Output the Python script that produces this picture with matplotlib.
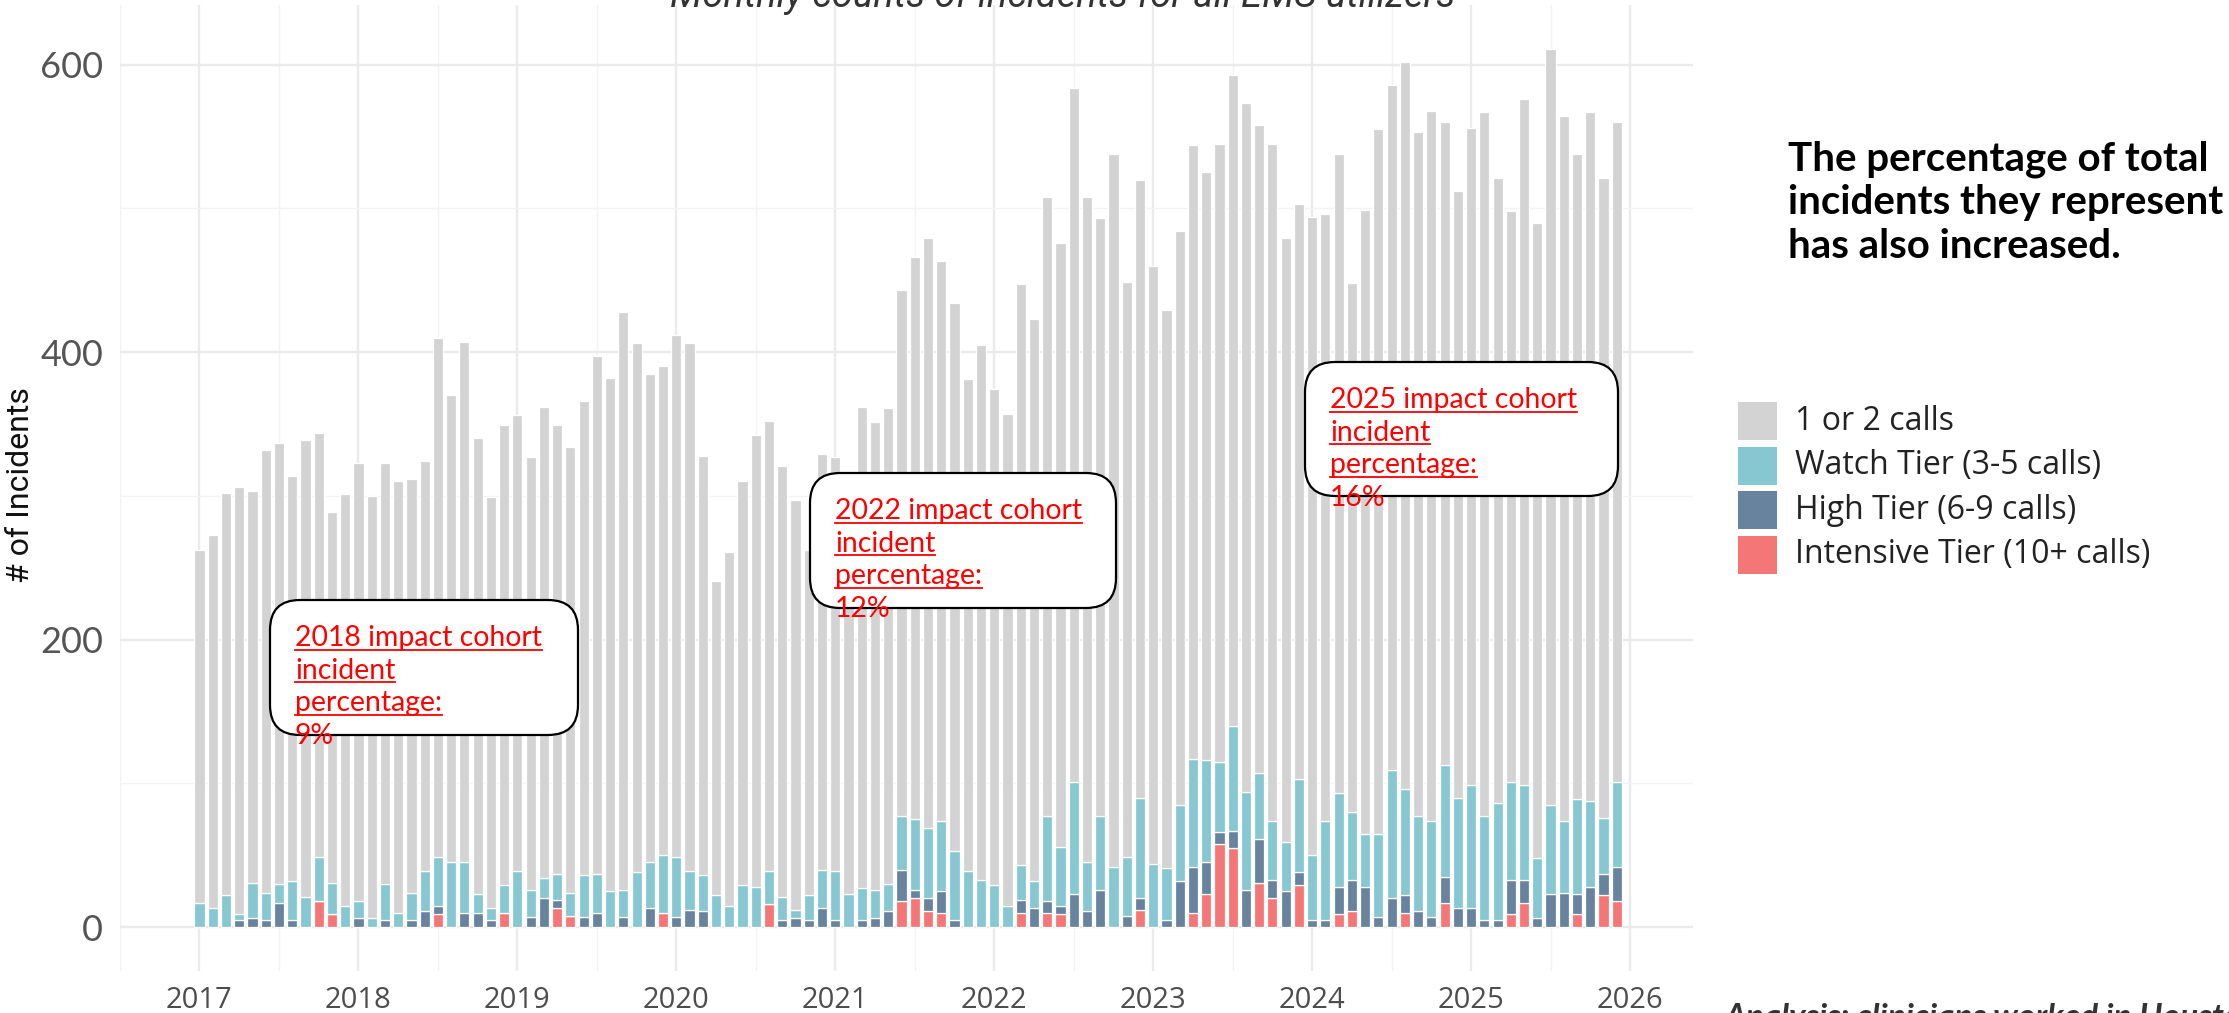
import numpy as np
import matplotlib
matplotlib.use("Agg")
import matplotlib.pyplot as plt
from matplotlib.patches import FancyBboxPatch, Rectangle
from matplotlib.lines import Line2D

# monthly counts, Jan 2017 .. Dec 2025
start_year = 2017
intensive = [0, 0, 0, 0, 0, 0, 0, 0, 0, 18, 9, 0,
             0, 0, 0, 0, 0, 0, 9, 0, 0, 0, 0, 10,
             0, 0, 0, 13, 8, 0, 0, 0, 0, 0, 0, 10,
             0, 0, 0, 0, 0, 0, 0, 16, 0, 0, 0, 0,
             0, 0, 0, 0, 0, 18, 20, 11, 10, 0, 0, 0,
             0, 0, 10, 0, 10, 9, 0, 0, 0, 0, 0, 12,
             0, 0, 0, 10, 23, 58, 55, 0, 31, 20, 0, 29,
             0, 0, 9, 11, 0, 0, 0, 10, 0, 0, 17, 0,
             0, 0, 0, 9, 17, 0, 0, 0, 9, 0, 22, 18]
high = [0, 0, 0, 5, 6, 5, 17, 5, 0, 0, 0, 0,
        6, 0, 5, 0, 5, 11, 6, 0, 10, 10, 5, 0,
        0, 7, 20, 6, 0, 7, 10, 0, 7, 0, 13, 0,
        7, 12, 11, 0, 0, 0, 0, 0, 5, 6, 5, 13,
        5, 0, 5, 6, 11, 22, 6, 9, 15, 5, 0, 0,
        0, 0, 9, 13, 8, 6, 23, 11, 26, 0, 8, 8,
        0, 5, 32, 32, 22, 8, 12, 26, 30, 13, 25, 9,
        5, 5, 19, 22, 28, 7, 20, 12, 11, 7, 18, 13,
        13, 5, 5, 24, 16, 6, 23, 24, 14, 28, 15, 24]
watch = [17, 13, 22, 4, 25, 19, 13, 27, 21, 31, 22, 15,
         12, 6, 25, 10, 19, 28, 34, 45, 35, 13, 8, 19,
         39, 19, 14, 18, 16, 29, 27, 25, 19, 38, 32, 40,
         42, 27, 25, 22, 15, 29, 28, 23, 16, 6, 17, 27,
         34, 23, 22, 20, 19, 37, 49, 49, 49, 48, 39, 33,
         29, 15, 24, 19, 59, 41, 78, 34, 51, 42, 41, 70,
         44, 36, 53, 75, 71, 49, 73, 68, 46, 41, 34, 65,
         45, 69, 65, 47, 37, 58, 89, 74, 66, 67, 78, 77,
         86, 72, 81, 68, 66, 42, 62, 50, 66, 60, 39, 59]
one_two = [245, 260, 280, 297, 272, 308, 307, 282, 318, 295, 258, 286,
           305, 294, 293, 300, 288, 285, 361, 325, 362, 317, 286, 320,
           317, 301, 328, 312, 310, 330, 360, 357, 402, 368, 340, 340,
           363, 367, 292, 219, 246, 281, 314, 313, 300, 285, 240, 289,
           288, 287, 335, 325, 331, 366, 391, 410, 389, 381, 342, 372,
           345, 342, 404, 391, 431, 420, 483, 463, 416, 496, 400, 430,
           416, 388, 399, 427, 409, 430, 453, 479, 451, 471, 420, 400,
           444, 422, 445, 368, 434, 490, 477, 506, 476, 494, 447, 422,
           457, 490, 435, 397, 477, 442, 526, 490, 449, 479, 445, 459]

tier_labels = ["1 or 2 calls", "Watch Tier (3-5 calls)",
               "High Tier (6-9 calls)", "Intensive Tier (10+ calls)"]
tier_colors = ["#D3D3D3", "#86C7D2", "#68839E", "#F47676"]
year_ticks = list(range(2017, 2027))

notes = [("2018", "9%"), ("2022", "12%"), ("2025", "16%")]
side_note = ["The percentage of total", "incidents they represent", "has also increased."]

W, H = 2229, 1013
fig = plt.figure(figsize=(W / 100, H / 100), dpi=100)
ax = fig.add_axes([120 / W, 42 / H, (1693 - 120) / W, (971 - 4.7) / H])

x = start_year + np.arange(len(one_two)) / 12
bw = 0.064
series = [intensive, high, watch, one_two]
cols = [tier_colors[3], tier_colors[2], tier_colors[1], tier_colors[0]]
bottom = np.zeros(len(x))
for vals, c in zip(series, cols):
    vals = np.array(vals)
    ax.bar(x, vals, width=bw, bottom=bottom, color=c, edgecolor="white",
           linewidth=0.9, zorder=3)
    bottom += vals

ax.set_xlim(2016.518, 2026.396)
ax.set_ylim(-30.55, 641.6)
ax.set_xticks(year_ticks)
ax.set_xticks([y + 0.5 for y in year_ticks[:-1]] + [2016.5], minor=True)
ax.set_yticks([0, 200, 400, 600])
ax.set_yticks([100, 300, 500], minor=True)
ax.grid(which="major", color="#EBEBEB", linewidth=1.7, zorder=0)
ax.grid(which="minor", color="#F3F3F3", linewidth=1.0, zorder=0)
for s in ax.spines.values():
    s.set_visible(False)
ax.tick_params(which="both", length=0)
ax.tick_params(axis="y", pad=12, labelsize=26, labelcolor="#555555")
ax.tick_params(axis="x", pad=11, labelsize=21, labelcolor="#4D4D4D")
for t in ax.get_yticklabels():
    t.set_family("Lato")
for t in ax.get_xticklabels():
    t.set_family("Open Sans")

fig.text(21 / W, 1 - 485 / H, "# of Incidents", rotation=90, ha="center",
         va="center", fontsize=23, color="#111111",
         family=["Liberation Sans Narrow", "Roboto"])

# clipped title at the very top
fig.text(1063 / W, 1 - 7 / H, "Monthly counts of incidents for all EMS utilizers",
         ha="center", va="baseline", fontsize=27.5, style="italic", color="#333333",
         family=["Liberation Sans Narrow", "Roboto"])

inch = fig.dpi_scale_trans


def P(px, py):
    return px / 100, (H - py) / 100


# annotation boxes
boxes = [(270, 600, 578, 735), (810, 473, 1116, 608), (1305, 362, 1618, 496)]
red_lines = []
for (yr, pct), (x0, y0, x1, y1) in zip(notes, boxes):
    bx, by = P(x0, y1)
    patch = FancyBboxPatch((bx, by), (x1 - x0) / 100, (y1 - y0) / 100,
                           boxstyle="round,pad=0,rounding_size=0.3",
                           transform=inch, facecolor="white", edgecolor="black",
                           linewidth=1.6, zorder=5)
    fig.patches.append(patch)
    lines = [yr + " impact cohort", "incident", "percentage:", pct]
    for k, ln in enumerate(lines):
        tx, ty = P(x0 + 25, y0 + 46 + k * 32.7)
        t = fig.text(tx, ty, ln, transform=inch, ha="left", va="baseline",
                     fontsize=20.4, color="#FF0000", family="Lato", zorder=6)
        if k < 3:
            red_lines.append((t, ty))

# right-hand note
for k, ln in enumerate(side_note):
    fig.text(*P(1788, 170 + k * 44), ln, transform=inch, ha="left", va="baseline",
             fontsize=29, fontweight="bold", color="black", family="Lato")

# legend
for k, (lab, c) in enumerate(zip(tier_labels, tier_colors)):
    top = 402 + k * 44.5
    fig.patches.append(Rectangle(P(1738, top + 38), 0.39, 0.38, transform=inch,
                                 facecolor=c, edgecolor="none"))
    fig.text(*P(1795, top + 19), lab, transform=inch, ha="left", va="center",
             fontsize=23, color="#222222", family="Open Sans")

# clipped caption at the bottom right
fig.text(*P(1724, 1027), "Analysis: clinicians worked in Houston",
         transform=inch, ha="left", va="baseline", fontsize=24,
         fontweight="bold", style="italic", color="#333333", family="Lato")

# underline the red annotation lines
fig.canvas.draw()
r = fig.canvas.get_renderer()
for t, ty in red_lines:
    bb = t.get_window_extent(r)
    uy = ty - 0.035
    fig.lines.append(Line2D([bb.x0 / 100, bb.x1 / 100], [uy, uy], transform=inch,
                            color="#FF0000", linewidth=1.3, zorder=7))

fig.savefig("out.png", dpi=100)
